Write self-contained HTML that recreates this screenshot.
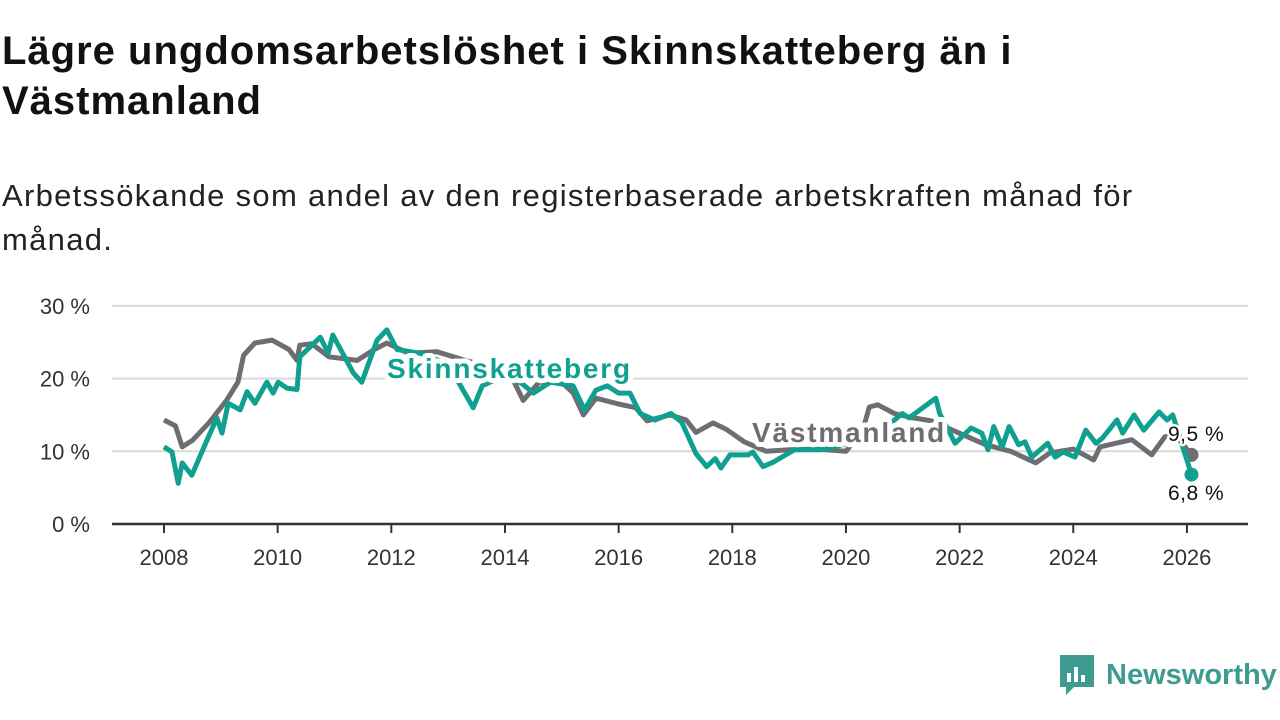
<!DOCTYPE html>
<html><head><meta charset="utf-8"><style>
body{margin:0;width:1280px;height:720px;background:#fff;font-family:"Liberation Sans",sans-serif;overflow:hidden}
h1{position:absolute;left:2px;top:26px;margin:0;font-size:40px;line-height:50px;font-weight:bold;color:#111;width:1270px;letter-spacing:1px;white-space:nowrap}
.sub{position:absolute;left:2px;top:174px;margin:0;font-size:31px;line-height:44px;color:#222;width:1270px;letter-spacing:1.3px;white-space:nowrap}
</style></head><body>
<h1>Lägre ungdomsarbetslöshet i Skinnskatteberg än i<br>Västmanland</h1>
<p class="sub">Arbetssökande som andel av den registerbaserade arbetskraften månad för<br>månad.</p>
<svg id="chart" width="1280" height="720" style="position:absolute;left:0;top:0"></svg>
<div style="position:absolute;left:1060px;top:655px;height:40px;display:flex;align-items:center">
<svg width="34" height="40"><path d="M0 0H34V32H14L6 40V32H0Z" fill="#3d9b90"/><rect x="7" y="18" width="4" height="9" fill="#fff"/><rect x="14" y="12" width="4" height="15" fill="#fff"/><rect x="21" y="20" width="4" height="7" fill="#fff"/></svg>
<span style="margin-left:12px;font-size:29px;font-weight:bold;color:#3d9b90">Newsworthy</span></div>
<script>
const years=[2008,2010,2012,2014,2016,2018,2020,2022,2024,2026];
const yTicks=[0,10,20,30];
const grayX=[2008.0,2008.2,2008.32,2008.5,2008.8,2009.1,2009.3,2009.4,2009.6,2009.9,2010.2,2010.34,2010.39,2010.6,2010.9,2011.4,2011.7,2011.92,2012.3,2012.8,2013.3,2013.8,2014.1,2014.32,2014.6,2015.0,2015.2,2015.38,2015.6,2016.0,2016.3,2016.5,2016.9,2017.19,2017.36,2017.66,2017.9,2018.21,2018.6,2019.0,2019.5,2020.0,2020.3,2020.41,2020.56,2020.85,2021.11,2021.5,2021.99,2022.46,2022.9,2023.34,2023.59,2024.0,2024.36,2024.47,2024.8,2025.03,2025.38,2025.61,2025.8,2026.08];
const grayV=[14.3,13.5,10.6,11.5,14,17,19.5,23.2,24.9,25.3,24,22.5,24.6,24.8,23,22.5,24,24.9,23.5,23.7,22.5,21.5,20.5,17,19.5,19.5,18,15,17.3,16.5,16,14.2,15,14.3,12.6,13.9,13,11.3,10,10.2,10.3,10,13,16.1,16.4,15.2,14.7,14.2,12.5,10.9,10,8.4,9.8,10.3,8.8,10.6,11.2,11.6,9.5,12,12.2,9.5];
const tealX=[2008.0,2008.14,2008.25,2008.32,2008.49,2008.76,2008.93,2009.02,2009.13,2009.34,2009.46,2009.6,2009.81,2009.92,2010.01,2010.16,2010.34,2010.39,2010.75,2010.89,2010.97,2011.33,2011.48,2011.75,2011.92,2012.1,2012.5,2013.0,2013.44,2013.6,2014.0,2014.3,2014.5,2014.8,2015.2,2015.4,2015.6,2015.8,2016.0,2016.2,2016.38,2016.64,2016.92,2017.11,2017.36,2017.55,2017.7,2017.8,2017.96,2018.14,2018.28,2018.36,2018.54,2018.72,2018.94,2019.09,2019.56,2020.0,2020.5,2020.99,2021.11,2021.58,2021.65,2021.92,2022.2,2022.39,2022.5,2022.6,2022.75,2022.87,2023.04,2023.15,2023.27,2023.55,2023.68,2023.82,2024.03,2024.22,2024.4,2024.51,2024.77,2024.87,2025.07,2025.24,2025.51,2025.65,2025.75,2026.08];
const tealV=[10.6,9.9,5.6,8.4,6.7,11.6,14.6,12.5,16.6,15.7,18.2,16.6,19.5,18,19.5,18.7,18.5,23,25.7,23.5,26,20.8,19.5,25.3,26.7,24,23.5,22,16,19,20.5,19.3,18,19.5,19,15.7,18.4,19,18,18,15.2,14.3,15.2,14,9.7,7.9,9,7.7,9.5,9.5,9.5,9.9,7.9,8.5,9.5,10.2,10.2,11,12,15.2,14.6,17.3,15.2,11.1,13.2,12.5,10.2,13.4,10.6,13.4,10.9,11.3,9.2,11.1,9.2,9.9,9.2,12.9,11.1,11.8,14.3,12.5,15,12.9,15.4,14.3,15,6.8];
const NS="http://www.w3.org/2000/svg";
const svg=document.getElementById('chart');
const X=y=>164+(y-2008)*56.83;
const Y=v=>524-v*7.27;
function mk(t,a,p){const e=document.createElementNS(NS,t);for(const k in a)e.setAttribute(k,a[k]);(p||svg).appendChild(e);return e;}
yTicks.forEach(v=>{
 const g=mk('line',{x1:112,x2:1248,y1:Y(v),y2:Y(v),stroke:v?'#d9d9d9':'#333','stroke-width':v?2:2.5});
 
 
 const t=mk('text',{x:90,y:Y(v)+8,'text-anchor':'end','font-size':22,fill:'#333','font-family':'Liberation Sans'});
 t.textContent=v+' %';
 
 
});
years.forEach(y=>{
 const l=mk('line',{x1:X(y),x2:X(y),y1:524,y2:533,stroke:'#333','stroke-width':2});
 
 
 const t=mk('text',{x:X(y),y:565,'text-anchor':'middle','font-size':22,fill:'#333','font-family':'Liberation Sans'});
 t.textContent=y;
 
 
});
function line(xs,vs,c,name){
 const d=xs.map((x,i)=>(i?'L':'M')+X(x).toFixed(1)+' '+Y(vs[i]).toFixed(1)).join(' ');
 const p=mk('path',{d:d,fill:'none',stroke:c,'stroke-width':5,'stroke-linejoin':'round'});
 
 
 const n=xs.length-1;
 const c2=mk('circle',{cx:X(xs[n]),cy:Y(vs[n]),r:7,fill:c});
 
 
}
line(grayX,grayV,'#6e6d72','vastmanland-line');
line(tealX,tealV,'#10a090','skinnskatteberg-line');
function lab(txt,x,y,c,sz,w,ls,name){
 const t=mk('text',{x:x,y:y,'font-size':sz,'font-weight':w,fill:c,stroke:'#fff','stroke-width':w=='bold'?10:5,'paint-order':'stroke','stroke-linejoin':'round','letter-spacing':ls,'font-family':'Liberation Sans'});
 t.textContent=txt;
 
 
}
lab('Skinnskatteberg',387,378,'#10a090',28,'bold',1.8,'skinnskatteberg-label');
lab('Västmanland',752,442,'#6e6d72',28,'bold',1.8,'vastmanland-label');
lab('9,5 %',1168,441,'#111',21,'normal',0.5,'vastmanland-value-label');
lab('6,8 %',1168,500,'#111',21,'normal',0.5,'skinnskatteberg-value-label');
</script>
</body></html>
